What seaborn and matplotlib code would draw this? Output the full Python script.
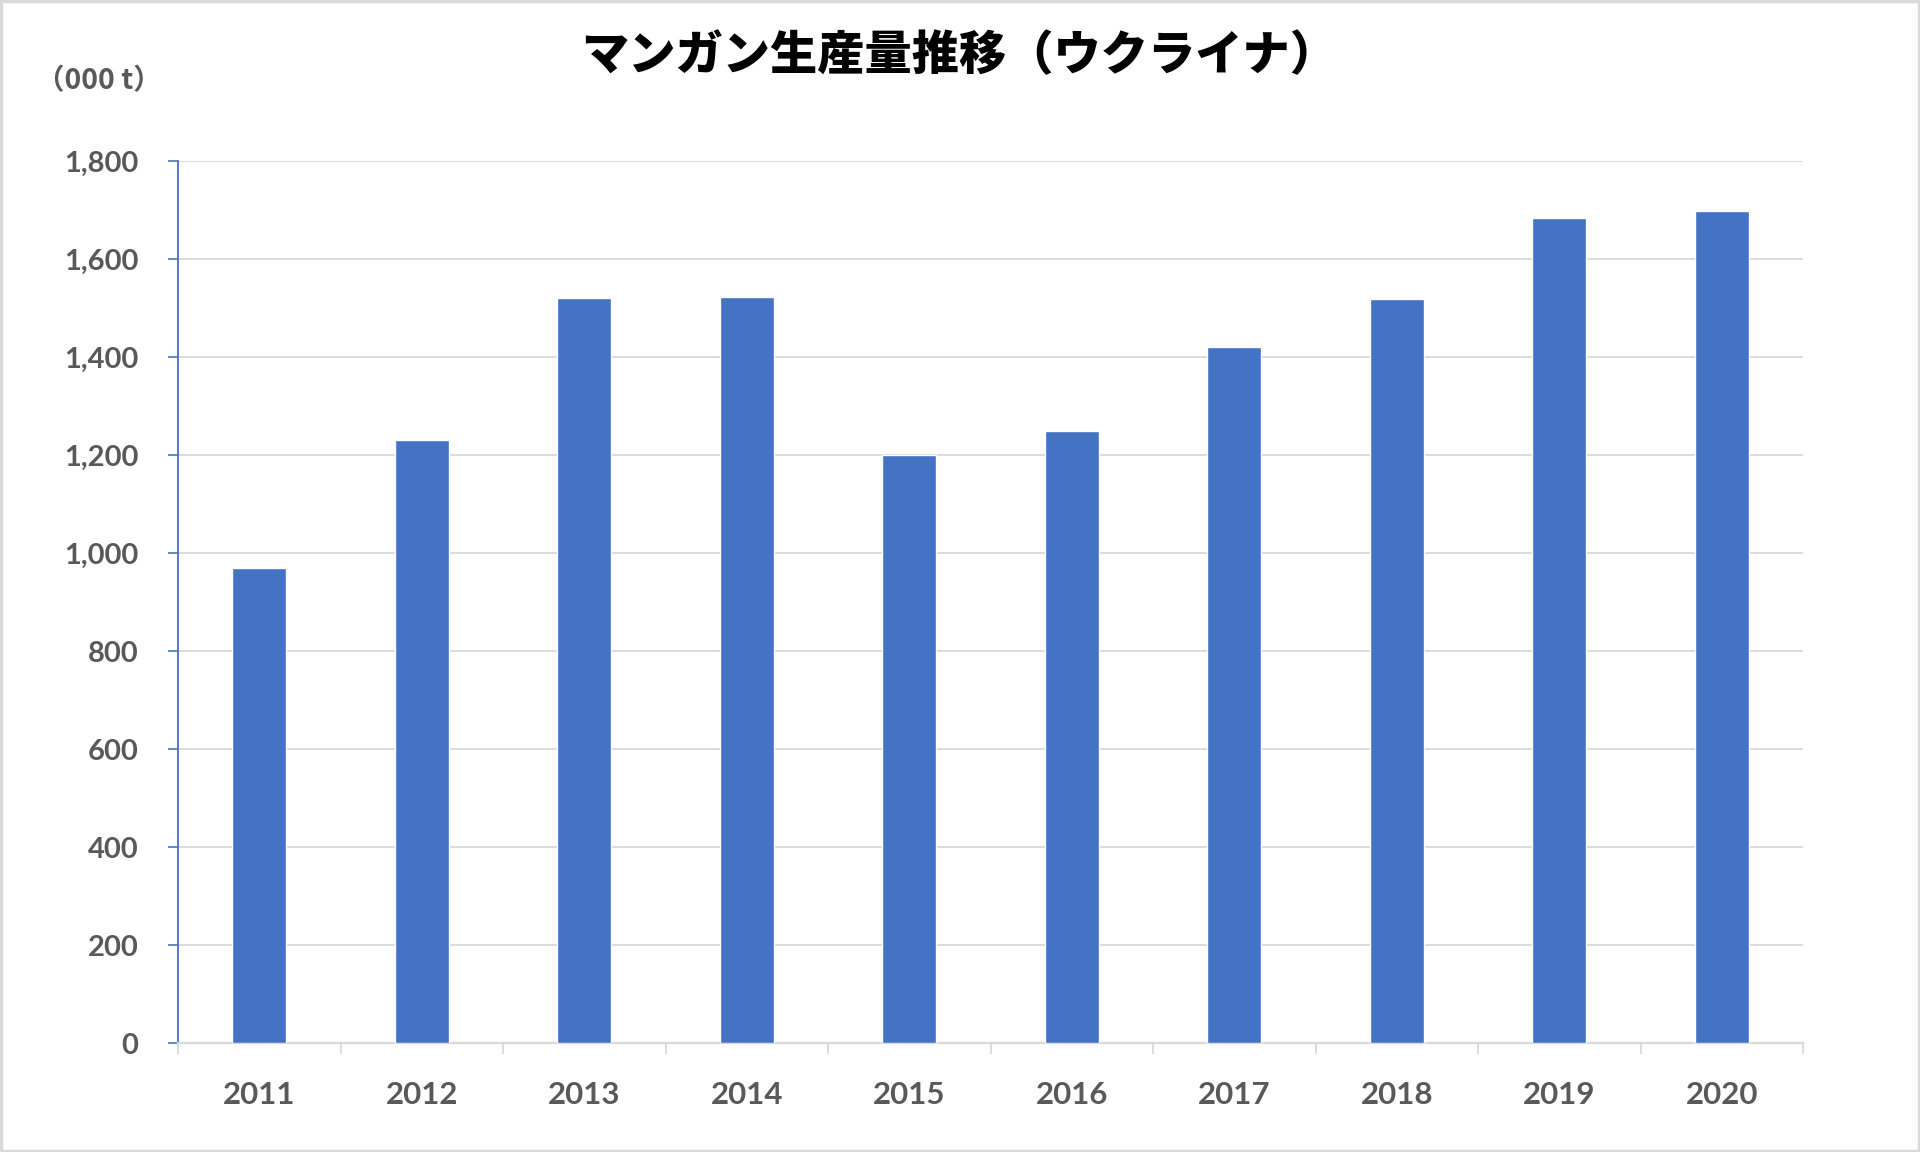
import matplotlib
matplotlib.use("Agg")
import matplotlib.pyplot as plt
import seaborn as sns
import pandas as pd
import numpy as np
from matplotlib.patches import Rectangle

years = ["2011", "2012", "2013", "2014", "2015", "2016", "2017", "2018", "2019", "2020"]
production = [970, 1231, 1521, 1523, 1199, 1248, 1421, 1518, 1684, 1697]
yticks = [0, 200, 400, 600, 800, 1000, 1200, 1400, 1600, 1800]

title = "マンガン生産量推移（ウクライナ）"
unit_label = "（000 t）"

sns.set_theme(style="white")
plt.rcParams['font.family'] = ['Lato', 'Noto Sans CJK JP', 'DejaVu Sans']

BAR = "#4472C4"
GRID = "#D9D9D9"
TXT = "#595959"

df = pd.DataFrame({"year": years, "value": production})

fig = plt.figure(figsize=(19.2, 11.52), dpi=100)
ax = fig.add_axes([178/1920, 1 - 1043/1152, (1803-178)/1920, (1043-161)/1152])

sns.barplot(data=df, x="year", y="value", color=BAR, width=0.33, saturation=1, ax=ax, zorder=3)

ax.set_xlim(-0.5, len(years) - 0.5)
ax.set_ylim(0, 1800)
ax.set_yticks(yticks)
ax.set_yticklabels([f"{v:,}" for v in yticks])
ax.set_xlabel("")
ax.set_ylabel("")

ax.yaxis.grid(True, color=GRID, linewidth=1.3, zorder=0)
ax.xaxis.grid(False)
for s in ["top", "right"]:
    ax.spines[s].set_visible(False)
ax.spines["left"].set_color(BAR)
ax.spines["left"].set_linewidth(1.3)
ax.spines["bottom"].set_color(GRID)
ax.spines["bottom"].set_linewidth(1.6)

ax.tick_params(axis="y", which="major", direction="out", length=7.5, width=1.2,
               color=BAR, pad=21, labelsize=21, labelcolor=TXT, left=True)
ax.tick_params(axis="x", which="major", length=0, pad=27, labelsize=22.5, labelcolor=TXT, bottom=True)
ax.set_xticks(np.arange(-0.5, len(years) + 0.5, 1), minor=True)
ax.tick_params(axis="x", which="minor", direction="out", length=8, width=1.3, color=GRID, bottom=True)
for lbl in ax.get_xticklabels() + ax.get_yticklabels():
    lbl.set_fontweight("bold")

fig.text(959/1920, 1 - 56/1152, title, ha="center", va="center", fontsize=34,
         fontweight="heavy", color="black", family=['Noto Sans CJK JP', 'DejaVu Sans'])
fig.text(99/1920, 1 - 81/1152, unit_label, ha="center", va="center", fontsize=20.5,
         fontweight="bold", color=TXT, family=['Noto Sans CJK JP', 'DejaVu Sans'])

fig.patches.append(Rectangle((0.0005, 0.0008), 0.999, 0.9985, transform=fig.transFigure,
                             fill=False, edgecolor=GRID, linewidth=2.5))

fig.savefig("out.png", dpi=100, facecolor="white")
